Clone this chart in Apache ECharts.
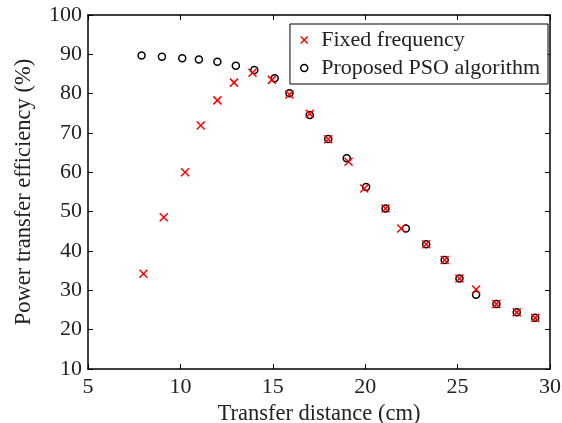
<!DOCTYPE html>
<html>
<head>
<meta charset="utf-8">
<script src="https://cdn.jsdelivr.net/npm/echarts@6/dist/echarts.min.js"></script>
<style>html,body{margin:0;padding:0;background:#fff}#c{width:562px;height:423px}</style>
</head>
<body>
<div id="c"></div>
<script>
var fixedX = [8.0, 9.1, 10.25, 11.1, 12.0, 12.9, 13.9, 14.95, 15.9, 17.0, 18.0, 19.1, 19.95, 21.1, 21.95, 23.3, 24.3, 25.1, 26.0, 27.1, 28.2, 29.2];
var fixedY = [34.2, 48.6, 60.0, 71.9, 78.3, 82.8, 85.3, 83.5, 79.8, 74.9, 68.4, 62.7, 55.9, 50.8, 45.7, 41.7, 37.7, 33.0, 30.2, 26.5, 24.4, 23.0];
var psoX = [7.9, 9.0, 10.1, 11.0, 12.0, 13.0, 14.0, 15.1, 15.9, 17.0, 18.0, 19.0, 20.05, 21.1, 22.2, 23.3, 24.3, 25.1, 26.0, 27.1, 28.2, 29.2];
var psoY = [89.7, 89.4, 89.0, 88.7, 88.1, 87.1, 86.0, 83.9, 80.1, 74.6, 68.5, 63.6, 56.3, 50.8, 45.7, 41.7, 37.7, 33.0, 28.9, 26.5, 24.4, 23.0];
var seriesNames = ['Fixed frequency', 'Proposed PSO algorithm'];
var xTitle = 'Transfer distance (cm)';
var yTitle = 'Power transfer efficiency (%)';

function pairs(xs, ys) { return xs.map(function (x, i) { return [x, ys[i]]; }); }

var serif = '"Liberation Serif", "DejaVu Serif", serif';
var txt = '#222';
var chart = echarts.init(document.getElementById('c'), null, { renderer: 'canvas' });
var crossPath = 'path://M0,0L10,10M10,0L0,10';
var axisCommon = {
  type: 'value',
  axisLine: { show: true, lineStyle: { color: '#000', width: 1.5 } },
  axisTick: { show: true, inside: true, length: 5, lineStyle: { color: '#000', width: 1 } },
  splitLine: { show: false }
};
chart.setOption({
  animation: false,
  backgroundColor: '#fff',
  grid: { left: 88, right: 12, top: 15, bottom: 54, containLabel: false, outerBoundsMode: 'none' },
  legend: {
    orient: 'vertical',
    right: 14, top: 24,
    padding: [5, 8, 5, 10],
    itemGap: 6,
    itemWidth: 8, itemHeight: 7,
    borderColor: '#000', borderWidth: 1, borderRadius: 0,
    backgroundColor: '#fff',
    textStyle: { fontFamily: serif, fontSize: 22, color: txt, padding: [0, 0, 0, 8] },
    data: [
      { name: seriesNames[0], icon: crossPath, itemStyle: { color: 'rgba(0,0,0,0)', borderColor: '#ff0000', borderWidth: 1.5 } },
      { name: seriesNames[1], icon: 'circle', itemStyle: { color: 'rgba(0,0,0,0)', borderColor: '#000', borderWidth: 1.5 } }
    ]
  },
  xAxis: [
    Object.assign({}, axisCommon, {
      min: 5, max: 30, interval: 5, position: 'bottom',
      name: xTitle, nameLocation: 'middle', nameGap: 28,
      nameTextStyle: { fontFamily: serif, fontSize: 22.5, color: txt },
      axisLabel: { fontFamily: serif, fontSize: 22, color: txt, margin: 7 }
    }),
    Object.assign({}, axisCommon, {
      min: 5, max: 30, interval: 5, position: 'top',
      axisLabel: { show: false }
    })
  ],
  yAxis: [
    Object.assign({}, axisCommon, {
      min: 10, max: 100, interval: 10, position: 'left',
      name: yTitle, nameLocation: 'middle', nameGap: 52,
      nameTextStyle: { fontFamily: serif, fontSize: 22.5, color: txt },
      axisLabel: { fontFamily: serif, fontSize: 22, color: txt, margin: 6 }
    }),
    Object.assign({}, axisCommon, {
      min: 10, max: 100, interval: 10, position: 'right',
      axisLabel: { show: false }
    })
  ],
  series: [
    {
      name: seriesNames[1], type: 'scatter', data: pairs(psoX, psoY),
      symbol: 'circle', symbolSize: 7,
      itemStyle: { color: 'rgba(0,0,0,0)', borderColor: '#000', borderWidth: 1.5, opacity: 1 }
    },
    {
      name: seriesNames[0], type: 'scatter', data: pairs(fixedX, fixedY),
      symbol: crossPath, symbolSize: 8,
      itemStyle: { color: 'rgba(0,0,0,0)', borderColor: '#ff0000', borderWidth: 1.5, opacity: 1 }
    }
  ]
});
</script>
</body>
</html>
